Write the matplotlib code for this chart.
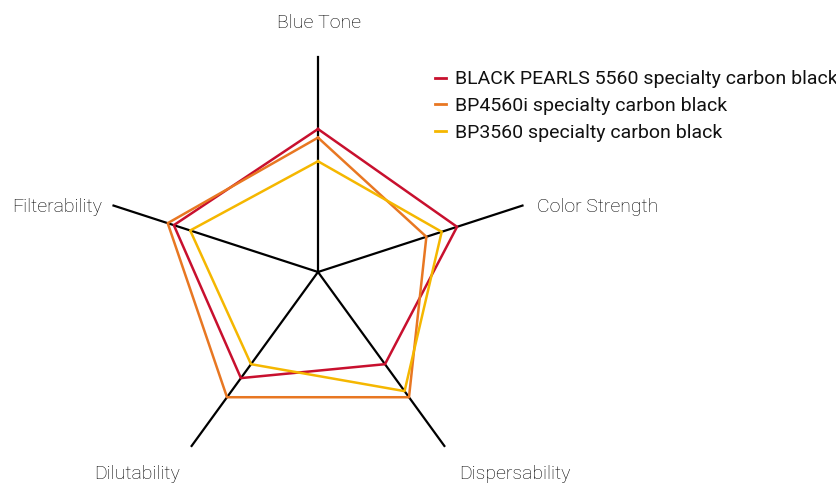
import numpy as np
import matplotlib
matplotlib.use('Agg')
import matplotlib.pyplot as plt

# axis categories, clockwise from the top
categories = ['Blue Tone', 'Color Strength', 'Dispersability', 'Dilutability', 'Filterability']

# scores (axis runs 0..10)
series_names = ['BLACK PEARLS 5560 specialty carbon black',
                'BP4560i specialty carbon black',
                'BP3560 specialty carbon black']
bp5560 = [6.65, 6.8, 5.3, 6.1, 7.05]
bp4560i = [6.25, 5.3, 7.2, 7.2, 7.35]
bp3560 = [5.15, 6.05, 6.85, 5.3, 6.25]
colors = ['#c8102e', '#e87722', '#f5b700']

W, H = 837, 483
fig = plt.figure(figsize=(W / 100, H / 100), dpi=100)
plt.rcParams['font.family'] = ['Roboto', 'DejaVu Sans']

# polar axes centred at (318, 272) px, radius 215 px
cx, cy, r = 318, 272, 215
ax = fig.add_axes([(cx - r) / W, (H - cy - r) / H, 2 * r / W, 2 * r / H], projection='polar')
ax.set_theta_offset(np.pi / 2)
ax.set_theta_direction(-1)
ax.set_ylim(0, 10)
ax.grid(False)
ax.spines['polar'].set_visible(False)
ax.set_xticks([])
ax.set_yticks([])
ax.patch.set_alpha(0)

angles = np.linspace(0, 2 * np.pi, len(categories), endpoint=False)

# black spokes
for a in angles:
    ax.plot([a, a], [0, 10], color='black', lw=1.6, clip_on=False, zorder=1)

closed = np.concatenate([angles, angles[:1]])
for name, vals, c in zip(series_names, [bp5560, bp4560i, bp3560], colors):
    v = np.concatenate([vals, vals[:1]])
    ax.plot(closed, v, color=c, lw=1.8, label=name, zorder=2)

# category labels
label_pos = [(319, 23, 'center'), (537, 207, 'left'), (515, 474, 'center'),
             (137, 474, 'center'), (102, 207, 'right')]
for cat, (x, y, ha) in zip(categories, label_pos):
    fig.text(x / W, 1 - y / H, cat, ha=ha, va='center', fontsize=14,
             fontweight='light', color='black')

leg = fig.legend(loc='upper left', bbox_to_anchor=(418 / W, 1 - 53 / H),
                 frameon=False, fontsize=14, handlelength=0.55,
                 handletextpad=0.45, labelspacing=0.45)
for line in leg.get_lines():
    line.set_linewidth(2)
for t in leg.get_texts():
    t.set_color('#111111')

fig.savefig('out.png', dpi=100)
